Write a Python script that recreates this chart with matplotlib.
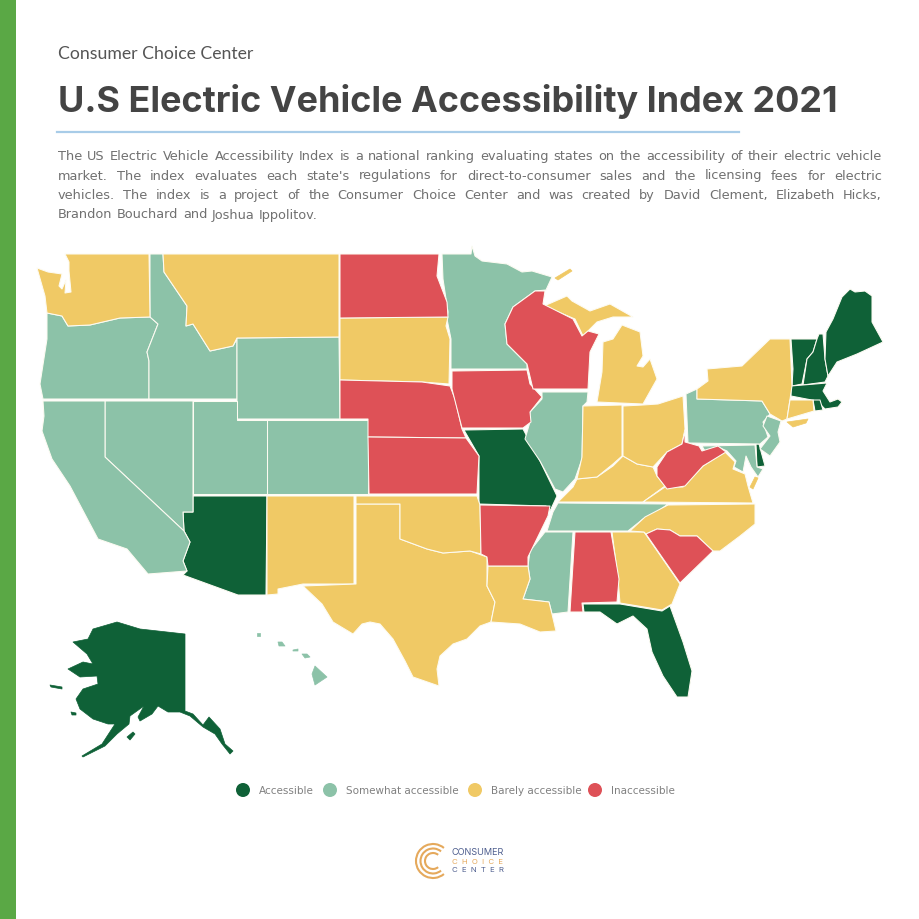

import matplotlib
matplotlib.use("Agg")
import matplotlib.pyplot as plt
from matplotlib.patches import Arc, Circle, Polygon, Rectangle

# colours
DARK = "#0f6137"
LIGHT = "#8cc2a8"
YELLOW = "#f0c965"
RED = "#de5157"
TEXT_GREY = "#707070"

# text
BRAND = "Consumer Choice Center"
TITLE = "U.S Electric Vehicle Accessibility Index 2021"
BODY_LINES = [
    "The US Electric Vehicle Accessibility Index is a national ranking evaluating states on the accessibility of their electric vehicle",
    "market. The index evaluates each state's regulations for direct-to-consumer sales and the licensing fees for electric",
    "vehicles. The index is a project of the Consumer Choice Center and was created by David Clement, Elizabeth Hicks,",
    "Brandon Bouchard and Joshua Ippolitov.",
]
LEGEND_LABELS = ["Accessible", "Somewhat accessible", "Barely accessible", "Inaccessible"]
LEGEND_COLORS = [DARK, LIGHT, YELLOW, RED]
LEGEND_X = [243, 330, 475, 595]

# state outlines, in picture pixels
WA = [(65,255),(149,255),(150,318),(120,319),(90,326),(68,327),(62,317),(47,314),(45,297),(37,269),(48,273),(62,275),(59,287),(62,290),(66,281),(65,294),(71,293),(69,272),(69,263)]
OR = [(47,314),(62,317),(68,327),(90,326),(120,319),(150,318),(158,325),(147,353),(149,362),(149,400),(43,400),(40,385),(47,340)]
ID = [(150,255),(163,255),(164,273),(187,307),(186,327),(193,325),(210,352),(233,347),(237,340),(237,400),(149,400),(149,362),(147,353),(158,325),(150,318)]
MT = [(163,255),(339,255),(339,338),(237,339),(233,347),(210,352),(193,325),(186,327),(187,307),(164,273)]
WY = [(237,339),(339,338),(340,420),(237,420)]
ND = [(340,255),(439,255),(437,277),(447,303),(448,318),(340,319)]
SD = [(340,319),(448,318),(446,327),(450,340),(449,385),(422,383),(340,381)]
NE = [(340,381),(422,383),(450,387),(455,400),(462,430),(466,439),(368,438),(368,420),(340,420)]
KS = [(368,438),(466,439),(479,457),(477,495),(369,495)]
CO = [(267,421),(368,421),(368,495),(267,495)]
UT = [(193,402),(237,402),(237,421),(267,421),(267,495),(193,495)]
NV = [(105,402),(193,402),(193,513),(183,513),(184,532),(105,458)]
CA = [(43,402),(105,402),(105,458),(184,532),(190,543),(183,562),(187,572),(148,575),(127,550),(98,540),(70,487),(52,460),(42,432),(44,417)]
AZ = [(193,497),(267,497),(266,596),(238,596),(183,576),(187,572),(183,562),(190,543),(184,532),(183,513),(193,513)]
NM = [(267,497),(354,497),(354,585),(303,585),(278,590),(278,595),(267,596)]
TX = [(356,505),(400,505),(400,540),(427,550),(443,554),(470,552),(487,558),(487,587),(495,603),(491,623),(480,627),(467,640),(453,645),(440,657),(437,670),(439,687),(413,678),(405,662),(393,640),(380,625),(370,623),(362,625),(353,635),(333,623),(322,605),(303,587),(356,585)]
OK = [(356,497),(477,497),(480,506),(481,555),(470,552),(443,554),(427,550),(400,540),(400,505),(356,505)]
AR = [(480,506),(550,507),(548,517),(528,558),(528,567),(488,567),(487,558),(481,555)]
LA = [(488,567),(528,567),(530,580),(523,600),(549,603),(552,615),(556,632),(540,633),(520,625),(491,623),(495,603),(487,587)]
MS = [(545,533),(573,533),(568,613),(552,615),(549,603),(523,600),(530,580),(528,567),(530,552)]
AL = [(575,533),(611,533),(619,580),(617,603),(582,604),(583,613),(570,613)]
GA = [(612,533),(644,533),(680,585),(672,605),(662,611),(620,604),(618,580)]
SC = [(646,535),(657,530),(670,531),(680,537),(697,537),(713,552),(680,584)]
FL = [(583,605),(620,605),(662,612),(670,607),(683,643),(692,672),(688,698),(677,698),(663,677),(652,653),(647,630),(633,617),(617,625),(600,613),(584,613)]
NC = [(630,532),(645,518),(668,506),(755,505),(755,525),(740,537),(720,552),(713,552),(697,537),(680,537),(670,531),(657,530),(646,535),(644,533)]
TN = [(558,504),(668,505),(657,513),(643,520),(628,532),(547,532),(553,513)]
KY = [(558,503),(573,488),(577,480),(597,478),(613,467),(623,457),(637,465),(653,468),(657,477),(665,487),(643,503)]
VA = [(665,488),(683,488),(703,467),(725,453),(735,463),(733,470),(745,475),(748,487),(753,504),(643,503)]
VA_SHORE = [(758,479),(753,490),(750,488),(755,478)]
WV = [(685,432),(685,443),(699,447),(702,452),(718,447),(726,453),(703,467),(685,487),(667,490),(657,477),(657,468),(667,453),(682,445)]
OH = [(623,407),(643,406),(658,405),(683,397),(685,430),(682,445),(667,453),(653,468),(637,465),(623,457)]
IN = [(583,407),(622,406),(622,457),(613,465),(597,478),(577,480),(582,458)]
IL = [(542,393),(588,393),(587,403),(583,407),(582,460),(575,480),(563,493),(555,490),(540,462),(525,440),(530,423),(530,413),(542,400)]
IA = [(452,372),(527,371),(530,385),(542,398),(530,413),(531,423),(523,429),(462,429),(452,390)]
MO = [(464,431),(523,430),(540,462),(557,497),(550,512),(546,507),(479,505),(479,457)]
MN = [(442,255),(471,255),(472,247),(475,257),(482,262),(507,265),(522,273),(532,272),(552,278),(546,291),(535,292),(513,308),(505,325),(507,345),(527,365),(527,370),(451,370),(451,340),(447,320),(448,313),(443,280)]
WI = [(545,292),(543,305),(573,320),(582,337),(588,332),(599,335),(590,353),(588,390),(533,390),(527,365),(507,345),(505,325),(513,308),(535,292)]
MI_UP = [(544,307),(567,297),(572,302),(590,312),(610,305),(633,318),(613,318),(597,323),(583,337),(575,320)]
MI_LP = [(622,326),(640,333),(643,357),(637,367),(643,368),(650,360),(657,380),(643,405),(597,403),(602,373),(603,343),(613,340)]
PA = [(686,395),(697,390),(697,400),(762,402),(770,415),(763,423),(768,438),(760,445),(688,444)]
NY = [(697,400),(697,390),(708,382),(707,370),(742,367),(770,340),(790,340),(792,387),(787,420),(782,422),(770,415),(762,402)]
CT = [(790,401),(813,401),(814,412),(787,420)]
RI = [(813,401),(820,401),(823,411),(815,412)]
MA = [(791,387),(827,384),(823,392),(830,403),(838,400),(842,403),(838,408),(825,410),(817,402),(791,397)]
VT = [(791,340),(817,340),(813,353),(807,360),(802,385),(792,387),(793,370)]
NH = [(819,335),(823,335),(825,360),(828,377),(825,383),(803,386),(807,360),(813,353),(817,340)]
ME = [(826,333),(833,320),(842,298),(850,290),(855,293),(865,292),(872,297),(872,323),(883,343),(857,355),(837,363),(828,377),(825,360)]
NJ = [(767,417),(781,422),(778,433),(780,443),(770,457),(760,450),(770,437),(763,427)]
DE = [(756,445),(759,445),(765,467),(757,468)]
MD = [(702,447),(755,446),(757,468),(763,470),(758,478),(751,468),(746,457),(743,473),(734,468),(736,462),(727,452),(718,448),(705,452)]

# shapes too small or thin to carry a white border
MI_ISLE = [(555,279),(570,270),(572,272),(558,281)]
LONG_ISLAND = [(787,423),(808,420),(806,424),(793,428)]
AK = [(73,643),(88,640),(93,630),(117,623),(140,630),(185,635),(185,712),(193,715),(203,726),(209,718),(220,730),(225,745),(233,752),(230,755),(222,745),(215,735),(203,728),(190,717),(180,713),(168,713),(158,707),(152,715),(140,722),(138,718),(144,707),(130,717),(129,725),(117,735),(105,747),(83,758),(82,757),(102,745),(115,725),(108,725),(93,720),(80,710),(76,700),(83,690),(98,685),(97,677),(80,678),(68,670),(83,663),(93,665),(87,655)]
AK_KODIAK = [(127,738),(133,733),(135,735),(130,741)]
AK_LAWRENCE = [(50,686),(62,688),(62,690),(51,688)]
AK_NUNIVAK = [(71,713),(76,714),(76,716),(72,716)]
HI_BIG = [(315,667),(327,678),(315,686),(312,675)]
HI_MAUI = [(278,643),(282,643),(285,647),(279,647)]
HI_OAHU = [(302,655),(307,655),(310,658),(305,659)]
HI_KAUAI = [(257,634),(260,634),(260,637),(257,637)]
HI_MOLOKAI = [(293,651),(298,650),(298,652),(293,652)]

accessible_states = [AZ, MO, FL, VT, NH, ME, MA, RI, DE]
somewhat_states = [OR, ID, WY, CO, UT, NV, CA, MN, IL, TN, MS, PA, NJ, MD]
barely_states = [WA, MT, SD, NM, TX, OK, LA, GA, NC, KY, VA, OH, IN, MI_UP, MI_LP, NY, CT]
inaccessible_states = [ND, NE, KS, AR, AL, SC, WV, IA, WI]

accessible_small = [AK, AK_KODIAK, AK_LAWRENCE, AK_NUNIVAK]
somewhat_small = [HI_BIG, HI_MAUI, HI_OAHU, HI_KAUAI, HI_MOLOKAI]
barely_small = [MI_ISLE, LONG_ISLAND, VA_SHORE]


def draw_justified(ax, line, x0, x1, y, justify, **style):
    # place word by word so the gaps stretch to the right edge
    words = line.split(" ")
    renderer = ax.figure.canvas.get_renderer()
    items = [ax.text(x0, y, w, va="baseline", ha="left", **style) for w in words]
    widths = [t.get_window_extent(renderer).width for t in items]
    gap = 4.5
    if justify:
        gap = (x1 - x0 - sum(widths)) / (len(words) - 1)
    x = x0
    for t, w in zip(items, widths):
        t.set_x(x)
        x += w + gap


def main() -> None:
    fig = plt.figure(figsize=(9.2, 9.2), dpi=100)
    ax = fig.add_axes([0, 0, 1, 1])
    ax.set_xlim(0, 920)
    ax.set_ylim(920, 0)
    ax.axis("off")

    # 1. Header
    ax.add_patch(Rectangle((0, 0), 16, 920, color="#5aa845", lw=0))
    ax.text(58, 59, BRAND, fontsize=12.7, family="Lato", color="#555555", va="baseline")
    ax.text(58, 112, TITLE, fontsize=25.9, family="Inter", fontweight="bold", color="#444444", va="baseline")
    ax.plot([57, 739], [133, 133], color="#a8cce8", lw=1.6)

    for i, line in enumerate(BODY_LINES):
        draw_justified(ax, line, 58, 882, 160 + i * 19.5, i < 3,
                       fontsize=9.3, family="DejaVu Sans", color=TEXT_GREY)

    # 2. Map
    groups = [accessible_states, somewhat_states, barely_states, inaccessible_states]
    for shapes, color in zip(groups, LEGEND_COLORS):
        for shape in shapes:
            ax.add_patch(Polygon(shape, closed=True, facecolor=color,
                                 edgecolor="#fdfbf2", lw=0.75, joinstyle="round"))

    small_groups = [accessible_small, somewhat_small, barely_small]
    for shapes, color in zip(small_groups, LEGEND_COLORS[:3]):
        for shape in shapes:
            ax.add_patch(Polygon(shape, closed=True, facecolor=color,
                                 edgecolor=color, lw=0.5, joinstyle="round"))

    # 3. Legend
    for x, label, color in zip(LEGEND_X, LEGEND_LABELS, LEGEND_COLORS):
        ax.add_patch(Circle((x, 791), 7, color=color, lw=0))
        ax.text(x + 16, 794.5, label, fontsize=7.5, family="DejaVu Sans", color="#808080", va="baseline")

    # 4. Logo
    for r in (17, 12.5, 8):
        ax.add_patch(Arc((433, 862), 2 * r, 2 * r, theta1=50, theta2=310,
                         color="#e5a95c", lw=1.5))
    ax.text(452, 855, "CONSUMER", fontsize=6.6, family="Inter", color="#4f5f8f", va="baseline")
    ax.text(452, 864, "C  H  O  I  C  E", fontsize=5.6, family="Inter", color="#e5a95c", va="baseline")
    ax.text(452, 872, "C  E  N  T  E  R", fontsize=5.6, family="Inter", color="#4f5f8f", va="baseline")

    fig.savefig("out.png", dpi=100, facecolor="white")
    plt.close(fig)


if __name__ == "__main__":
    main()
